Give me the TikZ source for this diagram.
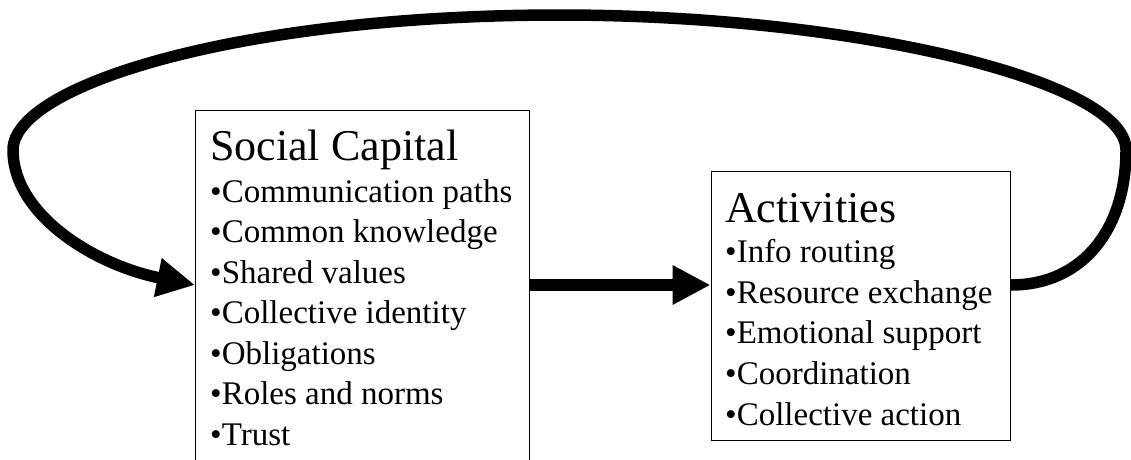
\documentclass[tikz,border=0pt]{standalone}
\usepackage{fontspec}
\setmainfont{Liberation Serif}
\usetikzlibrary{arrows.meta}
\begin{document}
\begin{tikzpicture}[x=1pt,y=-1pt,
  box/.style={draw=black, line width=1.2pt, rectangle, inner sep=0pt, anchor=north west},
  ttl/.style={anchor=base west, inner sep=0pt, font=\fontsize{44}{50}\selectfont},
  itm/.style={anchor=base west, inner sep=0pt, font=\fontsize{33}{40}\selectfont},
  flow/.style={line width=11.5pt, line join=round, -{Triangle[length=38pt,width=37pt]}}]
\useasboundingbox (0,0) rectangle (1131,459);
\clip (0,0) rectangle (1131,459);
\fill[white] (0,0) rectangle (1131,459);
% boxes
\node[box, minimum width=334pt, minimum height=380pt] (sc) at (195,110) {};
\node[box, minimum width=299pt, minimum height=269pt] (ac) at (710.5,171) {};
% Social Capital text
\node[ttl] (sctitle) at (210,160) {Social Capital};
\foreach \t [count=\i from 0] in {Communication paths,Common knowledge,Shared values,Collective identity,Obligations,Roles and norms,Trust}
  \node[itm] (sc\i) at (210,{202+40.5*\i}) {•\t};
% Activities text
\node[ttl] (actitle) at (725,222) {Activities};
\foreach \t [count=\i from 0] in {Info routing,Resource exchange,Emotional support,Coordination,Collective action}
  \node[itm] (ac\i) at (725,{262.5+40.7*\i}) {•\t};
% connectors
\coordinate (scin) at ([yshift=-175pt]sc.north west);
\coordinate (scout) at ([yshift=-175pt]sc.north east);
\coordinate (acin) at ([yshift=-114pt]ac.north west);
\coordinate (acout) at ([yshift=-114pt]ac.north east);
\draw[flow, line width=12pt] (scout) -- (acin);
\draw[flow] (acout) .. controls (1082,285) and (1126,230) .. (1126,150)
  .. controls (1126,80) and (850,15) .. (560,15)
  .. controls (240,15) and (13,85) .. (13,150)
  .. controls (13,215) and (95,265) .. (scin);
\end{tikzpicture}
\end{document}
